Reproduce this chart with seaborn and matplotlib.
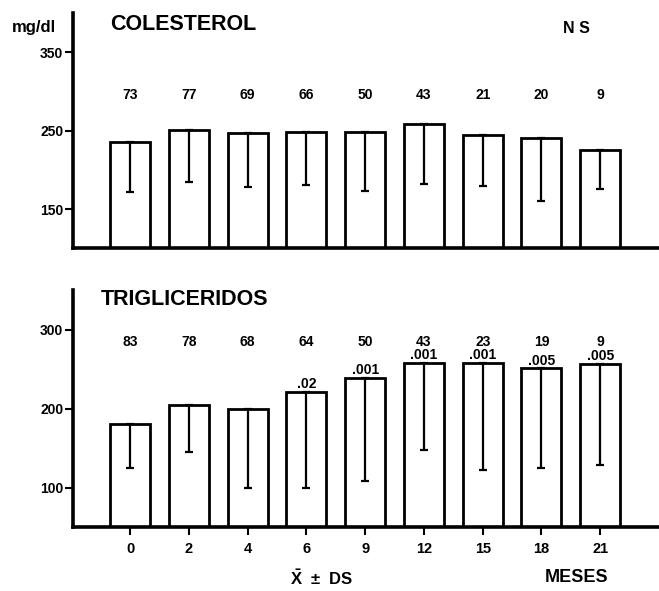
import seaborn as sns
import matplotlib.pyplot as plt
import numpy as np

months = ['0', '2', '4', '6', '9', '12', '15', '18', '21']

# colesterol: mean, SD (drawn downward only), n per point
col_mean = [236, 251, 247, 248, 248, 258, 245, 241, 225]
col_sd = [64, 67, 69, 68, 75, 76, 66, 81, 50]
col_n = [73, 77, 69, 66, 50, 43, 21, 20, 9]

# trigliceridos
tg_mean = [180, 205, 199, 221, 239, 258, 258, 251, 257]
tg_sd = [55, 60, 99, 122, 130, 110, 136, 126, 128]
tg_n = [83, 78, 68, 64, 50, 43, 23, 19, 9]
tg_p = ['', '', '', '.02', '.001', '.001', '.001', '.005', '.005']

sns.set_style('white')
plt.rcParams['font.family'] = ['Liberation Sans', 'DejaVu Sans']
plt.rcParams['font.weight'] = 'bold'
plt.rcParams['text.color'] = 'black'
plt.rcParams['xtick.color'] = 'black'
plt.rcParams['ytick.color'] = 'black'
plt.rcParams['mathtext.fontset'] = 'custom'
plt.rcParams['mathtext.bf'] = 'Liberation Sans:bold'
plt.rcParams['mathtext.rm'] = 'Liberation Sans:bold'

fig = plt.figure(figsize=(6.59, 5.91), dpi=100)
ax1 = fig.add_axes([0.111, 0.580, 0.889, 0.398])
ax2 = fig.add_axes([0.111, 0.108, 0.889, 0.401])


def panel(ax, mean, sd, n, ylim, yticks, n_y, p=None):
    sns.barplot(x=months, y=mean, color='white', edgecolor='black',
                linewidth=2, width=0.68, saturation=1, ax=ax)
    x = np.arange(len(months))
    ax.errorbar(x, mean, yerr=[sd, np.zeros(len(sd))], fmt='none',
                ecolor='black', elinewidth=1.6, capsize=3, capthick=1.6)
    for xi, ni in zip(x, n):
        ax.text(xi, n_y, str(ni), ha='center', va='center', fontsize=10,
                fontweight='bold')
    if p is not None:
        for xi, m, pi in zip(x, mean, p):
            if pi:
                ax.text(xi, m + 1, pi, ha='center', va='bottom',
                        fontsize=10, fontweight='bold')
    ax.set_xlim(-0.97, 9.0)
    ax.set_ylim(*ylim)
    ax.set_yticks(yticks)
    ax.set_yticklabels([str(t) for t in yticks], fontsize=10, fontweight='bold')
    for s in ['top', 'right']:
        ax.spines[s].set_visible(False)
    for s in ['left', 'bottom']:
        ax.spines[s].set_linewidth(2.6)
        ax.spines[s].set_color('black')
    ax.tick_params(axis='y', direction='out', length=6, width=1.5, pad=1,
                   left=True)
    ax.set_xlabel('')
    ax.set_ylabel('')


panel(ax1, col_mean, col_sd, col_n, (100, 400), [150, 250, 350], 296)
ax1.tick_params(axis='x', bottom=False, labelbottom=False)

panel(ax2, tg_mean, tg_sd, tg_n, (50, 350), [100, 200, 300], 284, tg_p)
ax2.tick_params(axis='x', direction='out', length=6, width=1.5, pad=5,
                bottom=True, labelsize=10.5)
for lab in ax2.get_xticklabels():
    lab.set_fontweight('bold')

fig.text(0.167, 0.958, 'COLESTEROL', fontsize=15.5, fontweight='bold', va='center')
fig.text(0.153, 0.494, 'TRIGLICERIDOS', fontsize=15.5, fontweight='bold', va='center')
fig.text(0.018, 0.954, 'mg/dl', fontsize=12, fontweight='bold', va='center')
fig.text(0.855, 0.951, 'N S', fontsize=11.5, fontweight='bold', va='center')
fig.text(0.44, 0.022, r'$\mathbf{\bar{X}}$  $\pm$  DS', fontsize=12, fontweight='bold', va='center')
fig.text(0.827, 0.022, 'MESES', fontsize=13, fontweight='bold', va='center')

plt.savefig('out.png', dpi=100)
